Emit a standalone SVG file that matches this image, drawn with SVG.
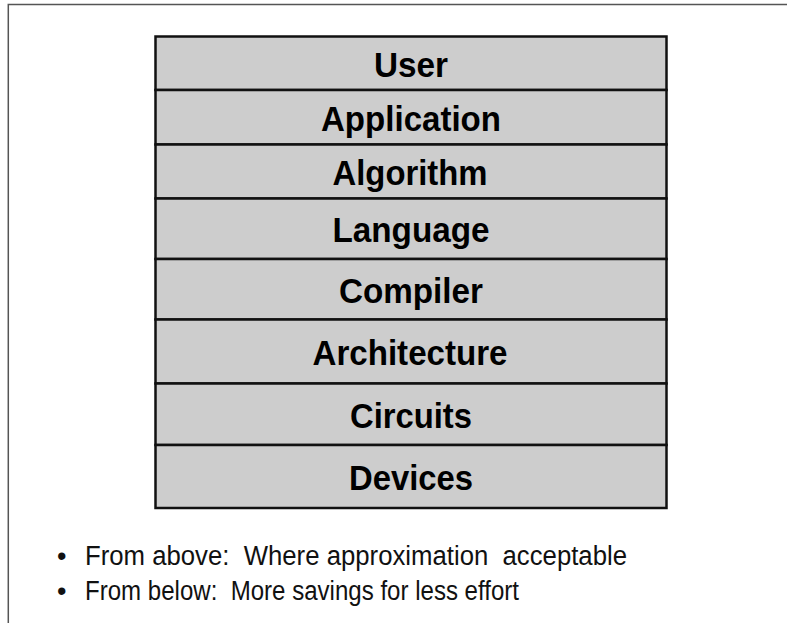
<svg xmlns="http://www.w3.org/2000/svg" width="787" height="623" viewBox="0 0 787 623">
  <style>
    .layer rect { fill: #cdcdcd; stroke: #111111; stroke-width: 2.5; }
    .layer text { font-family: "Liberation Sans", Arial, sans-serif; font-weight: bold; font-size: 35px; fill: #000000; text-anchor: middle; }
    .bullet { font-family: "Liberation Sans", Arial, sans-serif; font-size: 27px; fill: #111111; white-space: pre; }
    .frame { stroke: #555555; stroke-width: 1.5; fill: none; }
  </style>
  <rect width="787" height="623" fill="#ffffff"/>
  <!-- slide frame: top and left edges -->
  <path class="frame" d="M8.3 623 V4.6 H787"/>

  <!-- abstraction stack, top to bottom -->
  <g id="user" class="layer">
    <rect x="155.5" y="36.5" width="511" height="53.5"/>
    <text x="411" y="77" textLength="74" lengthAdjust="spacingAndGlyphs">User</text>
  </g>
  <g id="application" class="layer">
    <rect x="155.5" y="90" width="511" height="54.5"/>
    <text x="411" y="131" textLength="180" lengthAdjust="spacingAndGlyphs">Application</text>
  </g>
  <g id="algorithm" class="layer">
    <rect x="155.5" y="144.5" width="511" height="54"/>
    <text x="410" y="185" textLength="155" lengthAdjust="spacingAndGlyphs">Algorithm</text>
  </g>
  <g id="language" class="layer">
    <rect x="155.5" y="198.5" width="511" height="60.5"/>
    <text x="411" y="242" textLength="157" lengthAdjust="spacingAndGlyphs">Language</text>
  </g>
  <g id="compiler" class="layer">
    <rect x="155.5" y="259" width="511" height="60.5"/>
    <text x="411" y="303" textLength="144" lengthAdjust="spacingAndGlyphs">Compiler</text>
  </g>
  <g id="architecture" class="layer">
    <rect x="155.5" y="319.5" width="511" height="64"/>
    <text x="410" y="365" textLength="195" lengthAdjust="spacingAndGlyphs">Architecture</text>
  </g>
  <g id="circuits" class="layer">
    <rect x="155.5" y="383.5" width="511" height="61.5"/>
    <text x="411" y="428" textLength="122" lengthAdjust="spacingAndGlyphs">Circuits</text>
  </g>
  <g id="devices" class="layer">
    <rect x="155.5" y="445" width="511" height="63"/>
    <text x="411" y="490" textLength="124" lengthAdjust="spacingAndGlyphs">Devices</text>
  </g>

  <!-- notes -->
  <g id="notes">
    <text class="bullet" x="57" y="565">•</text>
    <text class="bullet" x="85" y="565" textLength="542" lengthAdjust="spacingAndGlyphs">From above:  Where approximation  acceptable</text>
    <text class="bullet" x="57" y="600">•</text>
    <text class="bullet" x="85" y="600" textLength="434" lengthAdjust="spacingAndGlyphs">From below:  More savings for less effort</text>
  </g>
</svg>
